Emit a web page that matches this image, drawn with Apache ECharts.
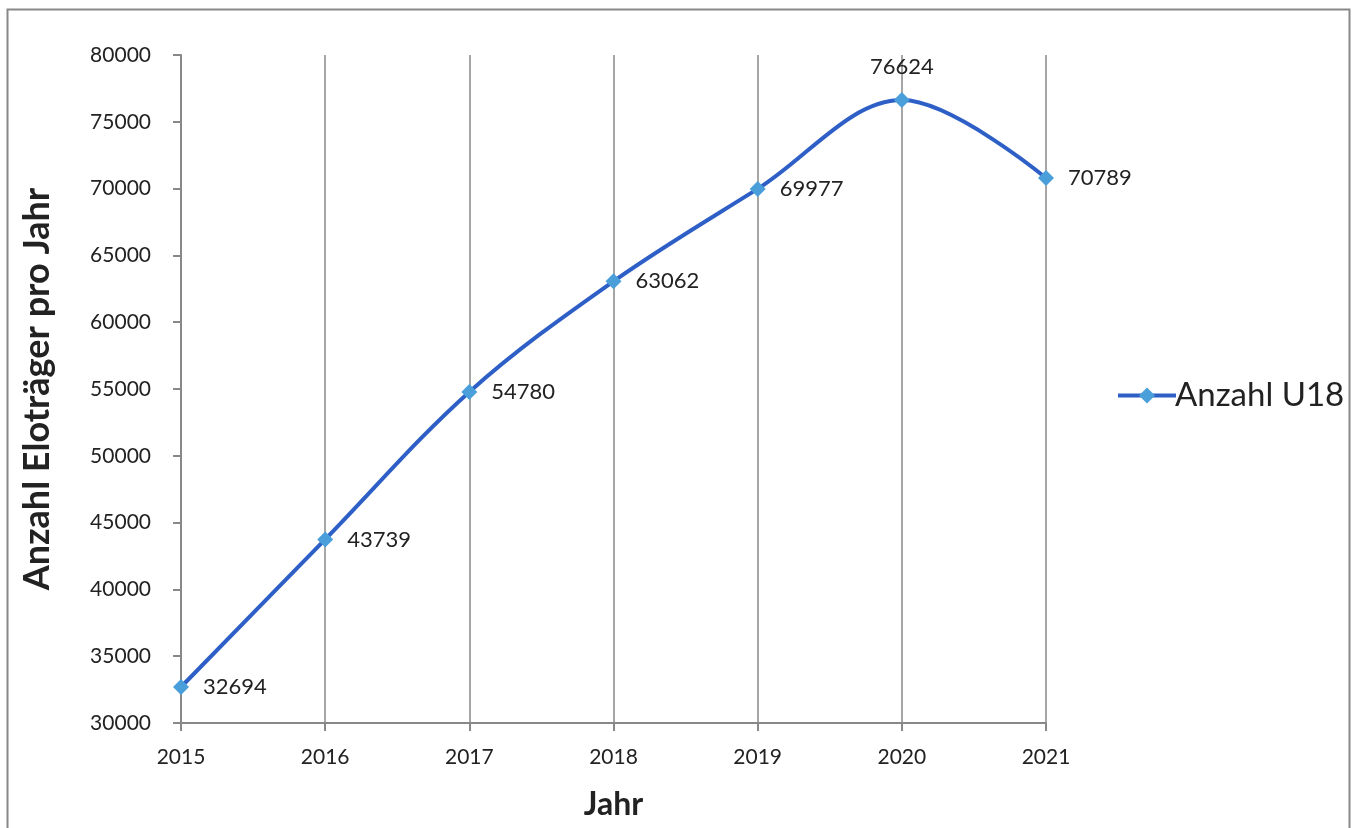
<!DOCTYPE html>
<html><head><meta charset="utf-8">
<script src="https://cdn.jsdelivr.net/npm/echarts@6/dist/echarts.min.js"></script>
<style>html,body{margin:0;padding:0;background:#fff}#c{width:1360px;height:828px}</style>
</head><body><div id="c"></div>
<script>
const years = ['2015','2016','2017','2018','2019','2020','2021'];
const values = [32694, 43739, 54780, 63062, 69977, 76624, 70789];
const seriesName = 'Anzahl U18';
const yTitle = 'Anzahl Eloträger pro Jahr';
const xTitle = 'Jahr';

const FONT = 'Lato, "Open Sans", sans-serif';
const chart = echarts.init(document.getElementById('c'));
chart.setOption({
  animation: false,
  backgroundColor: '#fff',
  graphic: [{type:'rect', shape:{x:7.5,y:9.5,width:1342,height:840}, style:{fill:'none', stroke:'#888', lineWidth:2}, silent:true}],
  grid: {left:181, right:314, top:55, bottom:105},
  legend: {
    left: 1111, top: 374, orient:'vertical',
    itemWidth: 58, itemHeight: 20, itemGap: 0,
    lineStyle: {width: 4},
    textStyle: {fontSize: 33, color:'#222', fontFamily: FONT, padding:[0,0,0,-6]},
    data: [seriesName]
  },
  xAxis: {
    type:'category', data: years, boundaryGap:false,
    name: xTitle, nameLocation:'middle', nameGap: 66,
    nameTextStyle:{fontSize:32, fontWeight:'bold', color:'#222', fontFamily: FONT},
    axisLine:{lineStyle:{color:'#888', width:2}},
    axisTick:{show:true, length:8, lineStyle:{color:'#888', width:2}},
    axisLabel:{fontSize:21, color:'#222', margin:24, fontFamily: FONT},
    splitLine:{show:true, lineStyle:{color:'#888', width:1.5}}
  },
  yAxis: {
    type:'value', min:30000, max:80000, interval:5000,
    name: yTitle, nameLocation:'middle', nameGap: 126, nameRotate: 90,
    nameTextStyle:{fontSize:36, fontWeight:'bold', color:'#222', fontFamily: FONT},
    axisLine:{show:true, lineStyle:{color:'#888', width:2}},
    axisTick:{show:true, length:8, lineStyle:{color:'#888', width:2}},
    axisLabel:{fontSize:21, color:'#222', margin:30, fontFamily: FONT, formatter: v => String(v)},
    splitLine:{show:false}
  },
  series: [{
    name: seriesName, type:'line', smooth: 0.35,
    data: values.map((v,i)=>({value:v, label: i===5 ? {position:'top', distance:14} : {}})),
    symbol:'diamond', symbolSize:16,
    lineStyle:{color:'#2D5FC6', width:4},
    itemStyle:{color:'#4A9FDA'},
    label:{show:true, position:'right', distance:14, fontSize:22, color:'#222', fontFamily: FONT}
  }]
});
</script></body></html>
